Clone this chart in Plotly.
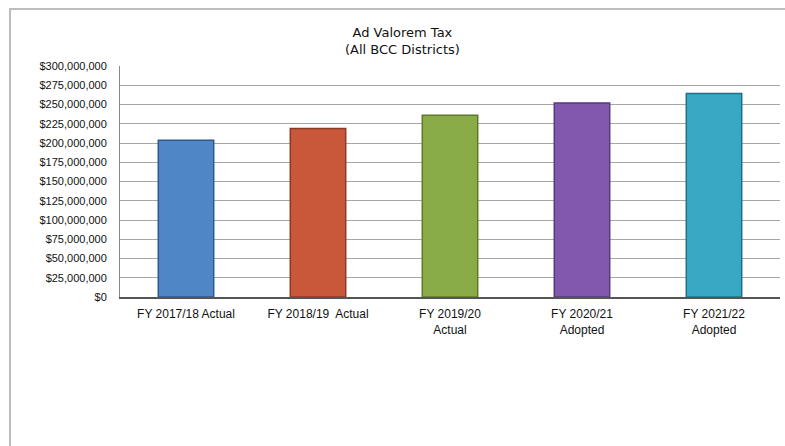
import plotly.graph_objects as go

categories = ["FY 2017/18 Actual", "FY 2018/19  Actual", "FY 2019/20<br>Actual",
              "FY 2020/21<br>Adopted", "FY 2021/22<br>Adopted"]
values = [203500000, 218700000, 236000000, 252000000, 264200000]
colors = ["#4f86c6", "#c9573a", "#8aac48", "#8158ad", "#38a8c4"]
edge_colors = ["#2f5a8c", "#8c3a24", "#5d7a2c", "#573a7c", "#1f7189"]
tick_vals = [i * 25000000 for i in range(13)]
tick_text = ["$0"] + ["${:,.0f}".format(v) for v in tick_vals[1:]]

W, H = 785, 446
L, R, T, B = 120, 5, 66, 149

fig = go.Figure()
fig.add_trace(go.Bar(
    x=categories, y=values,
    marker=dict(color=colors, line=dict(color=edge_colors, width=1.5)),
    width=0.42,
    hoverinfo="skip",
))

pw = W - L - R
ph = H - T - B

def px_x(px):
    return (px - L) / pw

def px_y(py):
    return (H - B - py) / ph

fig.update_layout(
    width=W, height=H,
    margin=dict(l=L, r=R, t=T, b=B),
    paper_bgcolor="white", plot_bgcolor="white",
    showlegend=False,
    font=dict(family="Liberation Sans, Arial, sans-serif", size=11, color="#111"),
    xaxis=dict(
        showgrid=False, showline=True, linecolor="#555", linewidth=1.5,
        ticks="", tickfont=dict(size=12), fixedrange=True, ticklabelstandoff=5,
    ),
    yaxis=dict(
        range=[0, 300000000], tickvals=tick_vals, ticktext=tick_text,
        showgrid=True, gridcolor="#a6a6a6", gridwidth=1,
        showline=True, linecolor="#888", linewidth=1,
        zeroline=False, ticks="", tickfont=dict(size=11), fixedrange=True,
        ticklabelstandoff=10,
    ),
    annotations=[
        dict(text="Ad Valorem Tax<br>(All BCC Districts)", xref="paper", yref="paper",
             x=px_x(402), y=px_y(41), xanchor="center", yanchor="middle",
             showarrow=False,
             font=dict(family="DejaVu Sans, Verdana, sans-serif", size=13, color="#111")),
    ],
    shapes=[
        dict(type="rect", xref="paper", yref="paper",
             x0=px_x(10), y0=px_y(9), x1=px_x(800), y1=px_y(470),
             line=dict(color="#bdbdbd", width=2), layer="below"),
    ],
)

fig.write_html("out.html", config={"displayModeBar": False},
               post_script="document.body.style.margin='0';document.body.style.overflow='hidden';")
